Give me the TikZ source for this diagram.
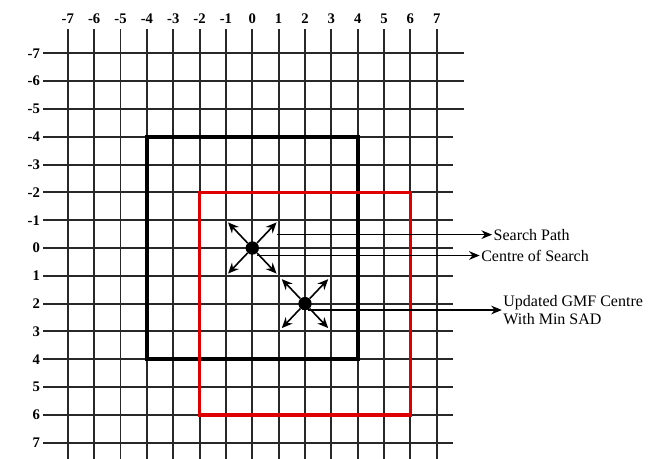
\documentclass[tikz,border=0pt]{standalone}
\usepackage{fontspec}
\setmainfont{Liberation Serif}
\usepackage{xcolor}
\usetikzlibrary{arrows.meta}
\definecolor{gridline}{RGB}{40,40,40}
\definecolor{redbox}{RGB}{222,0,0}

\begin{document}
\begin{tikzpicture}[x=19.76pt, y=-20.85pt,
  gridln/.style={gridline, line width=1.4pt},
  ticklbl/.style={font=\fontsize{11}{13}\selectfont\bfseries, inner sep=1pt},
  window/.style={line width=2.8pt},
  dot/.style={circle, fill=black, inner sep=0pt, minimum size=10pt},
  probe/.style={-{Stealth[length=8pt,width=7pt]}, line width=1.2pt},
  callout/.style={-{Stealth[length=8pt,width=6.5pt]}, line width=1pt},
  lbl/.style={font=\fontsize{12}{13.5}\selectfont, inner sep=1pt, align=left},
]
  \useasboundingbox (-9.575,-8.92) rectangle (15.397,7.554);

  % Grid with axis numbers
  \foreach \i in {-7,...,7} {
    \draw[gridln] (\i,-7.86) -- (\i,7.7);
    \node[ticklbl] (col\i) at (\i,-8.26) {\i};
  }
  \foreach \j in {-7,...,7} {
    \pgfmathsetmacro{\xr}{ifthenelse(\j<-4,8.03,7.62)}
    \draw[gridln] (-7.94,\j) -- (\xr,\j);
    \node[ticklbl, anchor=east] (row\j) at (-8.0,\j) {\j};
  }

  % Search windows
  \draw[window] (-4,-4) rectangle (4,4);
  \draw[window, redbox] (-2,-2) rectangle (6,6);

  % Search centres and probe directions
  \node[dot] (c0) at (0,0) {};
  \node[dot] (c1) at (2,2) {};
  \foreach \a/\b [count=\n] in {-1/-1, 1/-1, -1/1, 1/1} {
    \coordinate (s\n) at ({0.92*\a},{0.92*\b});
    \coordinate (u\n) at ({2+0.88*\a},{2+0.88*\b});
    \draw[probe] (c0) -- (s\n);
    \draw[probe] (c1) -- (u\n);
  }

  % Labels
  \node[lbl, anchor=west] (sp) at (9.1,-0.48) {Search Path};
  \node[lbl, anchor=west] (cs) at (8.63,0.27) {Centre of Search};
  \node[lbl, anchor=west] (upd) at (9.47,2.23) {Updated GMF Centre\\With Min SAD};

  \coordinate (spFrom) at (0.95,-0.48);
  \coordinate (csFrom) at (0.17,0.27);
  \coordinate (updFrom) at (2.12,2.23);
  \draw[callout] (spFrom) -- (sp.west);
  \draw[callout] (csFrom) -- (cs.west);
  \draw[callout] (updFrom) -- (upd.west);
\end{tikzpicture}
\end{document}
